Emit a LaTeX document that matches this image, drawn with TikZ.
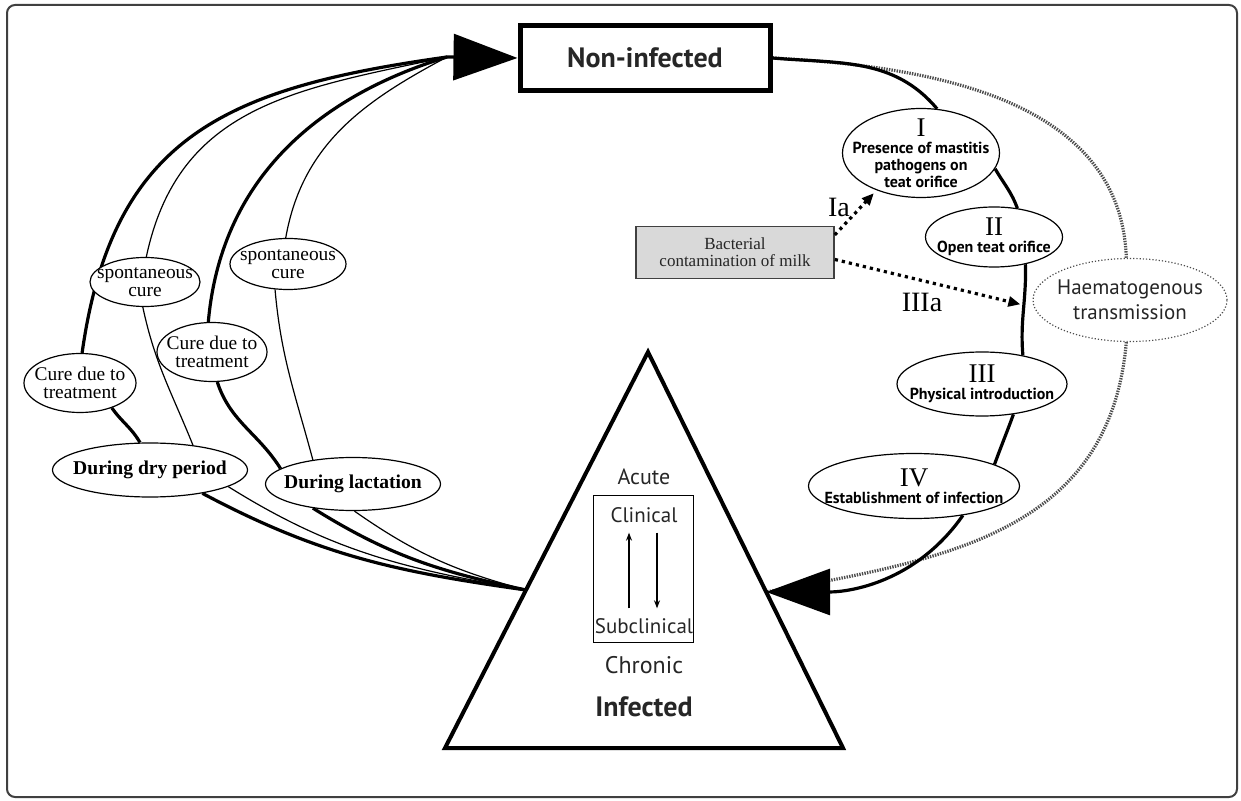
\documentclass[tikz,border=0pt]{standalone}
\usepackage{fontspec}
\setmainfont{Liberation Serif}
\newfontfamily\ptsans{PT Sans}
\usetikzlibrary{arrows.meta, shapes.geometric, calc}
\pgfdeclarelayer{bg}
\pgfsetlayers{bg,main}
\newcommand\stagenum[1]{{\rmfamily\mdseries\fontsize{13.5}{11}\selectfont #1}}

\begin{document}
\begin{tikzpicture}[x=0.5pt, y=0.5pt,
    heavy/.style={line width=1.6pt},
    light/.style={line width=0.6pt},
    bigtip/.style={-{Triangle[length=32pt,width=23pt]}},
    cure/.style={ellipse, draw, fill=white, line width=0.6pt, inner sep=-1cm, align=center, font=\fontsize{9.7}{8.7}\selectfont},
    period/.style={cure, font=\bfseries\fontsize{9.8}{10}\selectfont},
    stage/.style={ellipse, draw, fill=white, line width=0.6pt, inner sep=-1cm, align=center, font=\ptsans\bfseries\fontsize{8}{8.5}\selectfont},
    haemo/.style={ellipse, draw=black!70, densely dotted, fill=white, line width=0.6pt, inner sep=-1cm, align=center, text=black!85, font=\ptsans\fontsize{10.5}{12.5}\selectfont},
    milkbox/.style={draw=black!75, fill=black!15, line width=0.8pt, align=center, text=black!85, font=\fontsize{8.5}{8.5}\selectfont},
    milkarrow/.style={line width=1.6pt, dash pattern=on 1.6pt off 2pt, -{Triangle[length=6pt,width=5pt]}, shorten >=2pt},
    blood/.style={line width=1.6pt, dash pattern=on 0.7pt off 0.6pt, black!70},
    tritext/.style={text=black!85, font=\ptsans\fontsize{11}{12}\selectfont},
    lbl/.style={font=\fontsize{14}{14}\selectfont}
  ]
  \useasboundingbox (0,0) rectangle (1241,-801);
  \draw[black!75, line width=1pt, rounded corners=4pt] (7,-5) rectangle (1237,-797);

  \node[draw, fill=white, line width=2.5pt, minimum width=125pt, minimum height=32.5pt, text=black!85, font=\ptsans\bfseries\fontsize{14}{14}\selectfont] (non) at (645,-58) {Non-infected};

  \node[cure, minimum width=56pt, minimum height=29.5pt] (cured) at (80,-383) {Cure due to\\treatment};
  \node[cure, minimum width=55pt, minimum height=24.5pt] (spontd) at (145,-282) {spontaneous\\cure};
  \node[cure, minimum width=55pt, minimum height=29.5pt] (curel) at (212,-352) {Cure due to\\treatment};
  \node[cure, minimum width=58pt, minimum height=25.5pt] (spontl) at (288,-264) {spontaneous\\cure};
  \node[period, minimum width=97.5pt, minimum height=27pt] (dry) at (150,-470) {During dry period};
  \node[period, minimum width=87.5pt, minimum height=26.5pt] (lact) at (353,-484) {During lactation};

  \node[stage, minimum width=78.5pt, minimum height=44.5pt] (st1) at (921,-153) {\stagenum{I}\\Presence of mastitis\\pathogens on\\teat orifice};
  \node[stage, minimum width=68.5pt, minimum height=30pt] (st2) at (994,-237) {\stagenum{II}\\Open teat orifice};
  \node[stage, minimum width=85pt, minimum height=32pt] (st3) at (982,-384) {\stagenum{III}\\Physical introduction};
  \node[stage, minimum width=105.5pt, minimum height=32.5pt] (st4) at (914,-486) {\stagenum{IV}\\Establishment of infection};
  \node[haemo, minimum width=97pt, minimum height=41.5pt] (haem) at (1130,-300) {Haematogenous\\transmission};

  \node[milkbox, minimum width=99pt, minimum height=26pt] (milk) at (735,-252.5) {Bacterial\\contamination of milk};

  \coordinate (ta) at (648,-352);
  \coordinate (tb) at (445,-748);
  \coordinate (tc) at (843,-748);
  \draw[line width=2pt] (ta) -- (tb) -- (tc) -- cycle;
  \coordinate (infl) at ($(ta)!0.601!(tb)$);
  \coordinate (infr) at ($(ta)!0.606!(tc)$);
  \coordinate (tol) at (447,-57);

  \node[tritext] (acute) at (644,-477) {Acute};
  \node[draw, line width=0.6pt, minimum width=50pt, minimum height=73.5pt] (phases) at (643.5,-569) {};
  \node[tritext, font=\ptsans\fontsize{10.5}{12}\selectfont] (clin) at (644,-515) {Clinical};
  \node[tritext, font=\ptsans\fontsize{10.5}{12}\selectfont] (sub) at (644,-626) {Subclinical};
  \node[tritext, font=\ptsans\fontsize{12}{12}\selectfont] (chron) at (644,-665) {Chronic};
  \node[tritext, font=\ptsans\bfseries\fontsize{14}{14}\selectfont] (infd) at (644,-707) {Infected};
  \draw[line width=0.6pt, -{Stealth[length=4pt,width=3pt]}, shorten <=1.5pt, shorten >=1.5pt] ([xshift=-7.5pt]sub.north) -- ([xshift=-7.5pt]clin.south);
  \draw[line width=0.6pt, -{Stealth[length=4pt,width=3pt]}, shorten <=1.5pt, shorten >=1.5pt] ([xshift=6.5pt]clin.south) -- ([xshift=6.5pt]sub.north);

  \coordinate (entry) at ($(st2.-41)!0.45!(st3.35)$);

  \begin{pgfonlayer}{bg}
    \draw[heavy] (infl) to[out=172,in=-28] (dry.-24);
    \draw[heavy] (dry.110) to[out=120,in=-55] (cured.-38);
    \draw[heavy] (cured.86) to[out=82,in=188,looseness=1.2] (tol);

    \draw[light] (infl) to[out=170,in=-32] (dry.-12);
    \draw[light] (dry.30) to[out=112,in=-78] (spontd.-95);
    \draw[light] (spontd.87) to[out=78,in=192,looseness=1.1] (tol);

    \draw[heavy] (infl) to[out=168,in=-32] (lact.-149);
    \draw[heavy] (lact.168) to[out=122,in=-72] (curel.-80);
    \draw[heavy] (curel.97) to[out=85,in=197] (tol);

    \draw[light] (infl) to[out=165,in=-35] (lact.-87);
    \draw[light] (lact.149) to[out=105,in=-85] (spontl.-117);
    \draw[light] (spontl.95) to[out=80,in=208] (tol);

    \draw[blood] (non.east) to[out=-3,in=92] (haem.95);
    \draw[blood] (haem.-95) to[out=-95,in=10,looseness=1.1] (infr);

    \draw[heavy] (non.east) to[out=-5,in=130] (st1.70);
    \draw[heavy] (st1.-12) to[out=-60,in=110] (st2.51);
    \draw[heavy] (st2.-41) to[out=-88,in=95] (st3.35);
    \draw[heavy] (st3.-44) to[out=-110,in=70] (st4.15);
  \end{pgfonlayer}
  \draw[heavy, bigtip] (st4.-31) to[out=-125,in=0] (infr);
  \draw[heavy, bigtip] (tol) -- (non.west);

  \draw[milkarrow] (milk.10) -- (st1.-140);
  \draw[milkarrow] (milk.-4) -- (entry);
  \node[lbl] (ia) at (839,-207) {Ia};
  \node[lbl] (iiia) at (922,-302) {IIIa};
\end{tikzpicture}
\end{document}
